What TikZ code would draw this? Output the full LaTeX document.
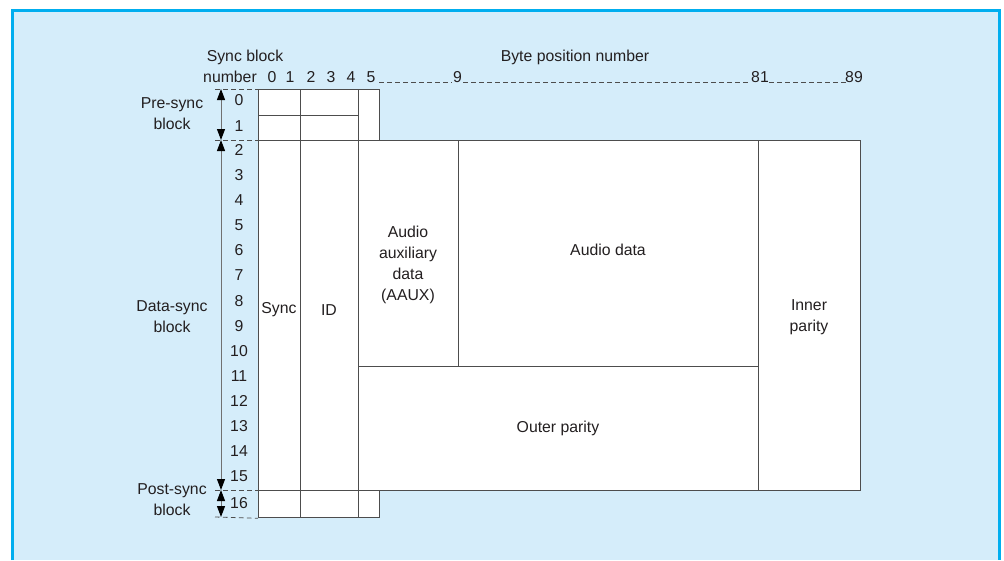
\documentclass[tikz,border=0pt]{standalone}
\usepackage{fontspec}
\setmainfont{Liberation Sans}
\usetikzlibrary{arrows.meta}
\definecolor{bgblue}{HTML}{D5EDFA}
\definecolor{frameblue}{HTML}{00AEEF}
\definecolor{gridgray}{HTML}{4D4D4D}
\definecolor{txt}{HTML}{231F20}
\begin{document}
\begin{tikzpicture}[x=1pt,y=-1pt,
  font=\fontsize{15.8}{21}\selectfont, text=txt,
  cell/.style={draw=gridgray, line width=1.3pt, fill=white, inner sep=0pt, anchor=north west},
  lbl/.style={inner sep=0pt, align=center},
  num/.style={inner sep=0pt},
  guide/.style={draw=gridgray, line width=0.8pt, dash pattern=on 4.5pt off 3.5pt},
  span/.style={draw=gridgray!80, line width=1pt, {Triangle[length=11pt,width=8pt,color=black]}-{Triangle[length=11pt,width=8pt,color=black]}}]
\useasboundingbox (0,0) rectangle (1004,560);
\fill[white] (0,0) rectangle (1004,560);
\fill[bgblue] (12,10) rectangle (999,560);
\draw[frameblue, line width=3pt] (12,560) -- (12,10) -- (999,10) -- (999,560);

% pre-sync block
\node[cell, minimum width=121pt, minimum height=51pt] (pre5) at (258,89) {};
\node[cell, minimum width=42pt, minimum height=26pt] (pre0a) at (258,89) {};
\node[cell, minimum width=58pt, minimum height=26pt] (pre0b) at (300,89) {};
\node[cell, minimum width=42pt, minimum height=25pt] (pre1a) at (258,115) {};
\node[cell, minimum width=58pt, minimum height=25pt] (pre1b) at (300,115) {};

% post-sync block
\node[cell, minimum width=121pt, minimum height=27pt] (postc) at (258,490) {};
\node[cell, minimum width=42pt, minimum height=27pt] (posta) at (258,490) {};
\node[cell, minimum width=58pt, minimum height=27pt] (postb) at (300,490) {};

% data-sync block
\node[cell, minimum width=42pt, minimum height=350pt] (sync) at (258,140) {};
\node[cell, minimum width=58pt, minimum height=350pt] (id) at (300,140) {};
\node[cell, minimum width=100pt, minimum height=226pt] (aaux) at (358,140) {};
\node[cell, minimum width=300pt, minimum height=226pt] (audio) at (458,140) {};
\node[cell, minimum width=400pt, minimum height=124pt] (outer) at (358,366) {};
\node[cell, minimum width=102pt, minimum height=350pt] (inner) at (758,140) {};

\node[lbl] (tsync) at (279,310) {Sync};
\node[lbl] (tid) at (329,310) {ID};
\node[lbl] (taaux) at (408,265) {Audio\\auxiliary\\data\\(AAUX)};
\node[lbl] (taudio) at (608,250) {Audio data};
\node[lbl] (touter) at (558,428) {Outer parity};
\node[lbl] (tinner) at (809,317) {Inner\\parity};

% header
\node[lbl] (hsb) at (245,57) {Sync block};
\node[lbl, anchor=east] (hnum) at (257,77) {number};
\node[num] (c0) at (272,77) {0};
\node[num] (c1) at (290,77) {1};
\node[num] (c2) at (311,77) {2};
\node[num] (c3) at (331,77) {3};
\node[num] (c4) at (351,77) {4};
\node[num] (c5) at (371,77) {5};
\node[num] (c9) at (457.5,77) {9};
\node[num] (c81) at (760,77) {81};
\node[num] (c89) at (854,77) {89};
\node[lbl] (hbyte) at (575,57) {Byte position number};
\coordinate (d5) at (379,82.5);
\coordinate (d9a) at (452,82.5);
\coordinate (d9b) at (463,82.5);
\coordinate (d81a) at (751,82.5);
\coordinate (d81b) at (769,82.5);
\coordinate (d89) at (846,82.5);
\draw[guide] (d5) -- (d9a);
\draw[guide] (d9b) -- (d81a);
\draw[guide] (d81b) -- (d89);

% row numbers
\node[num] (r0) at (239,100.5) {0};
\node[num] (r1) at (239,126) {1};
\foreach \i in {2,...,15} {
  \node[num] (r\i) at (239,{150+25.1*(\i-2)}) {\i};
}
\node[num] (r16) at (239,503) {16};

% side guides
\coordinate (g0) at (215,89);
\coordinate (g1) at (215,140);
\coordinate (g2) at (215,490);
\coordinate (g3) at (215,517);
\draw[guide] (g0) -- (pre0a.north west);
\draw[guide] (g1) -- (sync.north west);
\draw[guide] (g2) -- (posta.north west);
\draw[guide] (g3) -- (posta.south west);

\coordinate (a0) at (221,89);
\coordinate (a1) at (221,140);
\coordinate (a2) at (221,490);
\coordinate (a3) at (221,517);
\draw[span] (a0) -- (a1);
\draw[span] (a1) -- (a2);
\draw[span] (a2) -- (a3);

\node[lbl] (lpre) at (172,114) {Pre-sync\\block};
\node[lbl] (ldata) at (172,317) {Data-sync\\block};
\node[lbl, text depth=0pt] (lpost) at (172,500) {Post-sync\\block};
\end{tikzpicture}
\end{document}
